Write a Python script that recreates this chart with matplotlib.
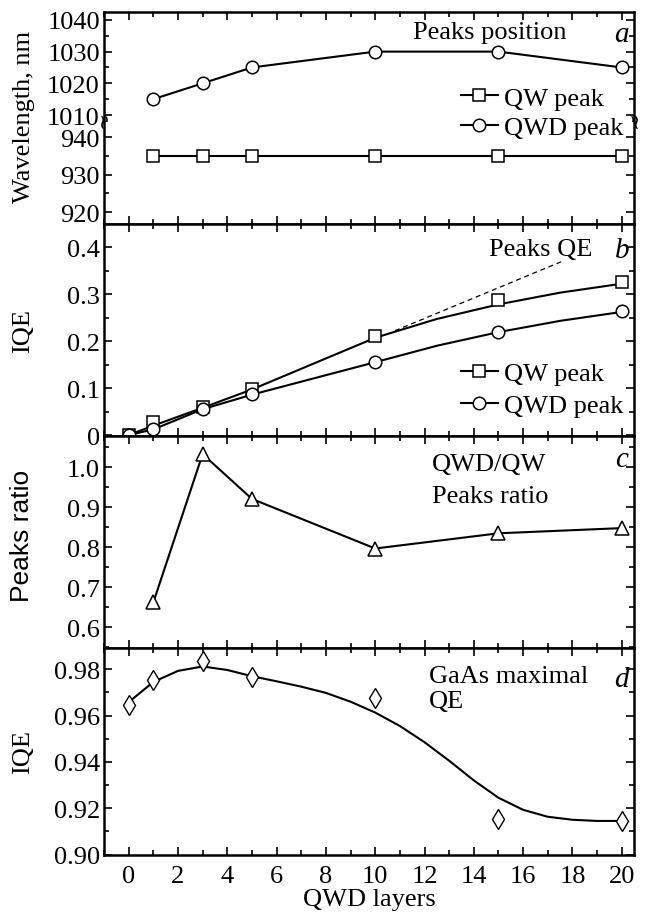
import matplotlib.pyplot as plt
from matplotlib.markers import MarkerStyle
from matplotlib.transforms import Affine2D
from matplotlib.ticker import MultipleLocator, FuncFormatter

plt.rcParams["font.family"] = ["Liberation Serif", "DejaVu Serif"]
plt.rcParams["font.size"] = 19

# ── Datos ─────────────────────────────────────────────────────────────────────
layers = [1, 3, 5, 10, 15, 20]
qw_wavelength = [935, 935, 935, 935, 935, 935]
qwd_wavelength = [1015, 1020, 1025, 1030, 1030, 1025]

layers_qe = [0, 1, 3, 5, 10, 15, 20]
qw_qe = [0.0, 0.027, 0.060, 0.099, 0.211, 0.288, 0.325]
qwd_qe = [0.0, 0.013, 0.056, 0.087, 0.155, 0.220, 0.264]

# curvas suavizadas
fit_x_qe = [0, 1, 3, 5, 10, 12.5, 15, 17.5, 20]
qw_qe_fit = [0.0, 0.020, 0.058, 0.097, 0.207, 0.247, 0.278, 0.303, 0.322]
qwd_qe_fit = [0.0, 0.012, 0.055, 0.086, 0.155, 0.190, 0.219, 0.243, 0.262]
trend_x = [10.8, 17.6]
trend_y = [0.222, 0.370]

ratio = [0.662, 1.033, 0.921, 0.797, 0.835, 0.848]

layers_gaas = [0, 1, 3, 5, 10, 15, 20]
gaas_iqe = [0.9644, 0.9755, 0.9834, 0.9765, 0.9675, 0.9155, 0.9145]
gaas_fit_x = [0, 1, 2, 3, 4, 5, 6, 7, 8, 9, 10, 11, 12, 13, 14, 15, 16, 17, 18, 19, 20]
gaas_fit = [0.9658, 0.9745, 0.9793, 0.9812, 0.9797, 0.9770, 0.9748, 0.9725, 0.9698,
            0.9660, 0.9613, 0.9555, 0.9485, 0.9405, 0.9320, 0.9245, 0.9193, 0.9163,
            0.9150, 0.9145, 0.9145]

# ── Figura ────────────────────────────────────────────────────────────────────
fig = plt.figure(figsize=(6.48, 9.2), dpi=100)
L, W = 0.1605, 0.818
ax_up = fig.add_axes([L, 0.8663, W, 0.1196])
ax_lo = fig.add_axes([L, 0.7554, W, 0.1109])
ax_b = fig.add_axes([L, 0.5250, W, 0.2304])
ax_c = fig.add_axes([L, 0.2946, W, 0.2304])
ax_d = fig.add_axes([L, 0.0696, W, 0.2250])

mk = dict(color="black", lw=1.5, mfc="white", mec="black", mew=1.1)

for ax in (ax_up, ax_lo, ax_b, ax_c, ax_d):
    ax.set_xlim(-1.0, 20.5)
    ax.xaxis.set_major_locator(MultipleLocator(2))
    ax.xaxis.set_minor_locator(MultipleLocator(1))
    ax.tick_params(which="both", direction="in", top=True, right=True,
                   width=1.2, labelbottom=False, pad=3)
    ax.tick_params(axis="x", pad=7)
    ax.tick_params(which="major", length=6)
    ax.tick_params(which="minor", length=3.5)
    for s in ax.spines.values():
        s.set_linewidth(1.8)

# ── a: posición de picos (eje cortado) ────────────────────────────────────────
ax_up.plot(layers, qwd_wavelength, marker="o", ms=9, **mk)
ax_up.set_ylim(1007.8, 1042.5)
ax_up.yaxis.set_major_locator(MultipleLocator(10))
ax_up.yaxis.set_minor_locator(MultipleLocator(5))
ax_up.spines["bottom"].set_visible(False)
ax_up.tick_params(which="both", bottom=False)

ax_lo.plot(layers, qw_wavelength, marker="s", ms=9, **mk)
ax_lo.set_ylim(916.8, 944.0)
ax_lo.yaxis.set_major_locator(MultipleLocator(10))
ax_lo.yaxis.set_minor_locator(MultipleLocator(5))
ax_lo.spines["top"].set_visible(False)
ax_lo.tick_params(which="both", top=False)

# marcas de corte del eje
brk = MarkerStyle(r"$\approx$", transform=Affine2D().rotate_deg(90))
ax_up.plot([0, 1], [0, 0], transform=ax_up.transAxes, ls="none", marker=brk,
           ms=9, color="black", mew=0, clip_on=False, zorder=5)

ax_up.text(14.65, 1036.2, "Peaks position", ha="center", va="center")
ax_up.text(20.0, 1035.4, "a", ha="center", va="center", style="italic", fontsize=21)

h_qw, = ax_lo.plot([], [], marker="s", ms=9, **mk)
h_qwd, = ax_up.plot([], [], marker="o", ms=9, **mk)
leg_kw = dict(loc="upper left", frameon=False, borderpad=0, borderaxespad=0,
              handlelength=1.4, handletextpad=0.25, fontsize=19)
fig.legend([h_qw, h_qwd], ["QW peak", "QWD peak"],
           bbox_to_anchor=(0.711, 0.9052), labelspacing=0.22, **leg_kw)

# ── b: IQE de los picos ───────────────────────────────────────────────────────
ax_b.plot(fit_x_qe, qw_qe_fit, color="black", lw=1.5)
ax_b.plot(fit_x_qe, qwd_qe_fit, color="black", lw=1.5)
ax_b.plot(layers_qe, qw_qe, ls="none", marker="s", ms=9, mfc="white", mec="black", mew=1.1)
ax_b.plot(layers_qe, qwd_qe, ls="none", marker="o", ms=9, mfc="white", mec="black", mew=1.1)
ax_b.plot(trend_x, trend_y, color="black", lw=0.9, ls=(0, (4, 3)))
ax_b.set_ylim(-0.002, 0.449)
ax_b.yaxis.set_major_locator(MultipleLocator(0.1))
ax_b.yaxis.set_minor_locator(MultipleLocator(0.05))
ax_b.yaxis.set_major_formatter(FuncFormatter(lambda v, p: "0" if abs(v) < 1e-9 else f"{v:.1f}"))
ax_b.text(16.7, 0.396, "Peaks QE", ha="center", va="center")
ax_b.text(20.0, 0.394, "b", ha="center", va="center", style="italic", fontsize=21)
fig.legend([h_qw, h_qwd], ["QW peak", "QWD peak"],
           bbox_to_anchor=(0.711, 0.6062), labelspacing=0.33, **leg_kw)

# ── c: cociente de picos ──────────────────────────────────────────────────────
ax_c.plot(layers, ratio, marker="^", ms=10, **mk)
ax_c.set_ylim(0.5483, 1.0783)
ax_c.yaxis.set_major_locator(MultipleLocator(0.1))
ax_c.yaxis.set_minor_locator(MultipleLocator(0.05))
ax_c.yaxis.set_major_formatter(FuncFormatter(lambda v, p: f"{v:.1f}"))
ax_c.text(14.6, 1.008, "QWD/QW", ha="center", va="center")
ax_c.text(14.65, 0.929, "Peaks ratio", ha="center", va="center")
ax_c.text(20.0, 1.02, "c", ha="center", va="center", style="italic", fontsize=21)

# ── d: QE máxima de GaAs ──────────────────────────────────────────────────────
ax_d.plot(gaas_fit_x, gaas_fit, color="black", lw=1.5)
ax_d.plot(layers_gaas, gaas_iqe, ls="none", marker="d", ms=10,
          mfc="white", mec="black", mew=1.0)
ax_d.set_ylim(0.8998, 0.9892)
ax_d.yaxis.set_major_locator(MultipleLocator(0.02))
ax_d.yaxis.set_minor_locator(MultipleLocator(0.01))
ax_d.yaxis.set_major_formatter(FuncFormatter(lambda v, p: f"{v:.2f}"))
ax_d.tick_params(labelbottom=True)
ax_d.set_xlabel("QWD layers", labelpad=1)
ax_d.text(12.17, 0.9773, "GaAs maximal", ha="left", va="center")
ax_d.text(12.17, 0.9663, "QE", ha="left", va="center")
ax_d.text(20.0, 0.976, "d", ha="center", va="center", style="italic", fontsize=21)

# ── Etiquetas del eje y ───────────────────────────────────────────────────────
fig.text(0.037, 1 - 117 / 920, "Wavelength, nm", rotation=90, ha="center", va="center")
fig.text(0.036, 1 - 331 / 920, "IQE", rotation=90, ha="center", va="center")
fig.text(0.034, 1 - 536 / 920, "Peaks ratio", rotation=90, ha="center", va="center",
         family=["Liberation Sans", "DejaVu Sans"])
fig.text(0.036, 1 - 752 / 920, "IQE", rotation=90, ha="center", va="center")

fig.savefig("out.png", dpi=100)
plt.close(fig)
